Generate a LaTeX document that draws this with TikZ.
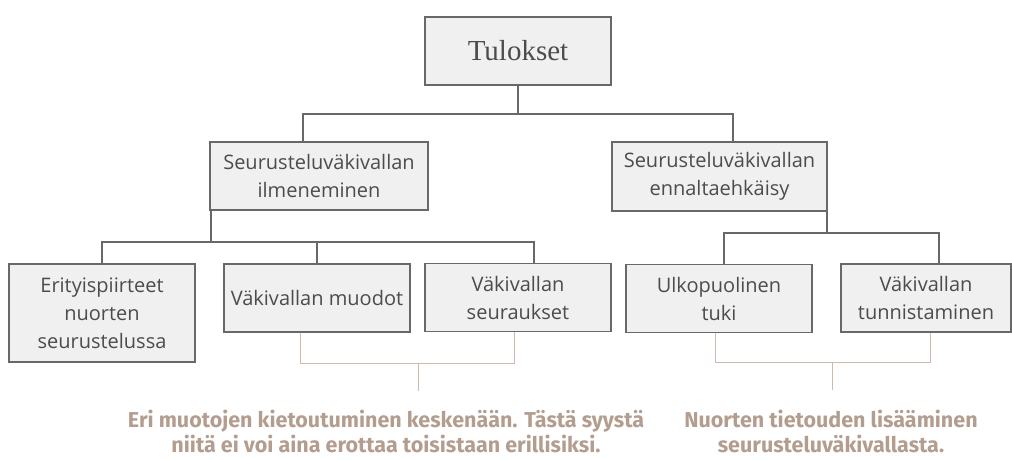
\documentclass[tikz,border=0pt]{standalone}
\usepackage{fontspec}
\setmainfont{Liberation Serif}
\newfontfamily\boxfont{Open Sans}
\newfontfamily\notefont{Fira Sans}
\definecolor{boxfill}{HTML}{F0F0F0}
\definecolor{boxline}{HTML}{686868}
\definecolor{boxtext}{HTML}{4C4C4C}
\definecolor{notetext}{HTML}{B39D8F}
\definecolor{noteline}{HTML}{CDBAAE}
\begin{document}
\begin{tikzpicture}[x=1pt,y=-1pt,
  box/.style={rectangle,fill=boxfill,draw=boxline,line width=1.2pt,align=center,
    text=boxtext,inner sep=0pt,minimum width=186pt,minimum height=68pt,
    font=\boxfont\fontsize{20}{28}\selectfont},
  link/.style={draw=boxline,line width=1.2pt},
  bracket/.style={draw=noteline,line width=1pt},
  note/.style={align=center,text=notetext,inner sep=0pt,
    font=\notefont\bfseries\fontsize{21.5}{25}\selectfont}]
  \useasboundingbox (0,0) rectangle (1012,460);
  \node[box,font=\fontsize{29}{30}\selectfont] (top) at (518,51) {Tulokset};
  \node[box,minimum width=218pt] (ilm) at (319,176) {Seurusteluväkivallan\\ilmeneminen};
  \node[box,minimum width=215pt,minimum height=69pt] (enn) at (719.5,176.5) {Seurusteluväkivallan\\ennaltaehkäisy};
  \node[box,minimum height=98pt] (erit) at (102,313) {Erityispiirteet\\nuorten\\seurustelussa};
  \node[box] (muodot) at (317,298) {Väkivallan muodot};
  \node[box] (seur) at (518,297.5) {Väkivallan\\seuraukset};
  \node[box] (tuki) at (719,298.5) {Ulkopuolinen\\tuki};
  \node[box,minimum width=170pt] (tunn) at (926,298) {Väkivallan\\tunnistaminen};
  \coordinate (ja) at (303,114);
  \coordinate (jb) at (733,114);
  \coordinate (jc) at (211,242);
  \coordinate (jd) at (534,242);
  \coordinate (je) at (827,233);
  \coordinate (jf) at (724,233);
  \coordinate (jg) at (939,233);
  \draw[link] (top.south) -- (top.south |- ja);
  \draw[link] (ilm.north -| ja) |- (jb) -- (enn.north -| jb);
  \draw[link] (ilm.south -| jc) -- (jc);
  \draw[link] (erit.north) |- (jd) -- (seur.north -| jd);
  \draw[link] (muodot.north) -- (muodot.north |- jc);
  \draw[link] (enn.south -| je) -- (je);
  \draw[link] (tuki.north -| jf) |- (jg) -- (tunn.north -| jg);
  \coordinate (ka) at (300,363);
  \coordinate (kb) at (514,363);
  \coordinate (kc) at (418,391);
  \coordinate (kd) at (715,362);
  \coordinate (ke) at (930,362);
  \coordinate (kf) at (832,390);
  \draw[bracket] (muodot.south -| ka) |- (kb) -- (seur.south -| kb);
  \draw[bracket] (kc |- ka) -- (kc);
  \draw[bracket] (tuki.south -| kd) |- (ke) -- (tunn.south -| ke);
  \draw[bracket] (kf |- kd) -- (kf);
  \node[note,anchor=north] (noteA) at (386,410) {Eri muotojen kietoutuminen keskenään. Tästä syystä\\niitä ei voi aina erottaa toisistaan erillisiksi.};
  \node[note,anchor=north] (noteB) at (831,410) {Nuorten tietouden lisääminen\\seurusteluväkivallasta.};
\end{tikzpicture}
\end{document}
